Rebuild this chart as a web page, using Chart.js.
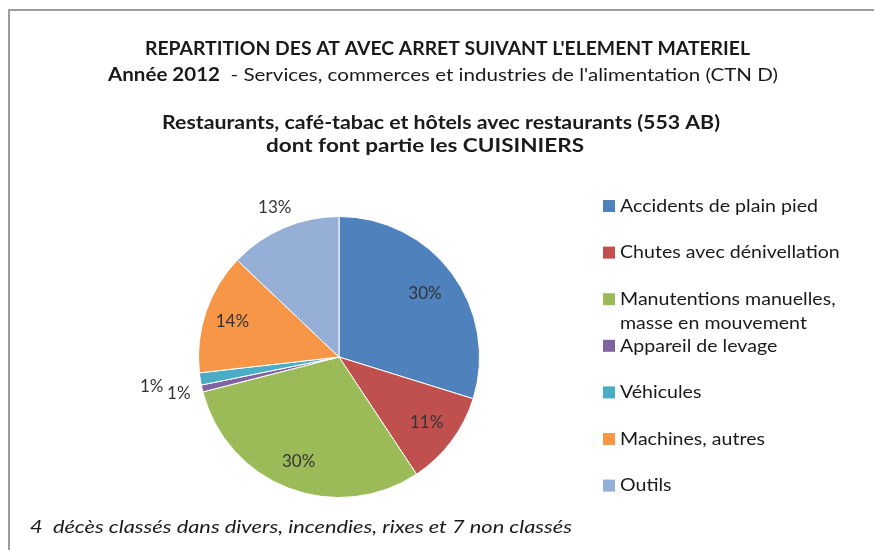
<!DOCTYPE html>
<html>
<head>
<meta charset="utf-8">
<script src="https://cdn.jsdelivr.net/npm/chart.js@4/dist/chart.umd.min.js"></script>
<style>
  html, body { margin: 0; padding: 0; background: #fff; }
  canvas { display: block; }
</style>
</head>
<body>
<canvas id="atChart" width="874" height="550"></canvas>
<script>
// Répartition des AT avec arrêt, 553 AB, année 2012 (en %)
const categories = [
    "Accidents de plain pied",
    "Chutes avec dénivellation",
    "Manutentions manuelles,\nmasse en mouvement",
    "Appareil de levage",
    "Véhicules",
    "Machines, autres",
    "Outils",
];
const shares = [29.8, 10.9, 30.3, 0.8, 1.4, 13.9, 12.9];
const sliceColors = ["#4F81BD", "#C0504D", "#9BBB59", "#8064A2", "#4BACC6", "#F79646", "#95AFD6"];

const titleLine = "REPARTITION DES AT AVEC ARRET SUIVANT L'ELEMENT MATERIEL";
const yearLabel = "Année 2012";
const sectorLabel = "  - Services, commerces et industries de l'alimentation (CTN D)";
const subtitleLines = [
    "Restaurants, café-tabac et hôtels avec restaurants (553 AB)",
    "dont font partie les CUISINIERS",
];
const footnote = "4  décès classés dans divers, incendies, rixes et 7 non classés";

const FONT = "Lato, 'Open Sans', sans-serif";
const TEXT = "#1a1a1a";

// draws text segments fitted horizontally to a given width
const drawSegments = (ctx, segments, left, y, width) => {
    let natural = 0;
    segments.forEach((s) => {
        ctx.font = s.font;
        natural += ctx.measureText(s.text).width;
    });
    const sx = width / natural;
    ctx.save();
    ctx.translate(left, y);
    ctx.scale(sx, 1);
    let x = 0;
    segments.forEach((s) => {
        ctx.font = s.font;
        ctx.fillText(s.text, x, 0);
        x += ctx.measureText(s.text).width;
    });
    ctx.restore();
};

const decorPlugin = {
    id: "decor",
    afterDraw(chart) {
        const ctx = chart.ctx;
        ctx.save();

        // frame
        ctx.strokeStyle = "#9c9c9c";
        ctx.lineWidth = 2;
        ctx.beginPath();
        ctx.moveTo(9, 550);
        ctx.lineTo(9, 10);
        ctx.lineTo(874, 10);
        ctx.stroke();

        ctx.fillStyle = TEXT;
        ctx.textBaseline = "middle";
        ctx.textAlign = "left";

        drawSegments(ctx, [{ text: titleLine, font: "bold 18px " + FONT }], 145, 49, 605);
        drawSegments(ctx, [
            { text: yearLabel, font: "bold 18px " + FONT },
            { text: sectorLabel, font: "18px " + FONT },
        ], 108, 75, 670);
        drawSegments(ctx, [{ text: subtitleLines[0], font: "bold 18px " + FONT }], 162, 123, 558);
        drawSegments(ctx, [{ text: subtitleLines[1], font: "bold 18px " + FONT }], 266, 146, 318);

        // footnote
        drawSegments(ctx, [{ text: footnote, font: "italic 18px " + FONT }], 30, 527, 542);

        // legend
        const meta = chart.getDatasetMeta(0);
        ctx.font = "18px " + FONT;
        const legendScale = 198 / ctx.measureText(categories[0]).width;
        categories.forEach((label, i) => {
            const y = 206 + i * 46.6;
            ctx.fillStyle = sliceColors[i];
            ctx.fillRect(603, y - 6, 12, 12);
            ctx.fillStyle = TEXT;
            label.split("\n").forEach((line, j) => {
                ctx.save();
                ctx.translate(620, y + j * 24);
                ctx.scale(legendScale, 1);
                ctx.fillText(line, 0, 0);
                ctx.restore();
            });
        });

        // percentage labels
        const radial = chart.options.plugins.decor.labelRadius;
        ctx.font = "17px " + FONT;
        ctx.textAlign = "center";
        ctx.fillStyle = "#333";
        meta.data.forEach((arc, i) => {
            const mid = (arc.startAngle + arc.endAngle) / 2;
            const r = arc.outerRadius * radial[i];
            const x = arc.x + Math.cos(mid) * r;
            const y = arc.y + Math.sin(mid) * r;
            ctx.fillText(Math.round(shares[i]) + "%", x, y);
        });

        ctx.restore();
    },
};

new Chart(document.getElementById("atChart"), {
    type: "pie",
    data: {
        labels: categories,
        datasets: [
            {
                data: shares,
                backgroundColor: sliceColors,
                borderColor: "#ffffff",
                borderWidth: 1,
                hoverOffset: 0,
            },
        ],
    },
    options: {
        responsive: false,
        animation: false,
        events: [],
        layout: {
            padding: { left: 198, right: 394, top: 216, bottom: 52 },
        },
        plugins: {
            legend: { display: false },
            title: { display: false },
            tooltip: { enabled: false },
            decor: { labelRadius: [0.76, 0.78, 0.8, 1.17, 1.35, 0.8, 1.16] },
        },
    },
    plugins: [decorPlugin],
});
</script>
</body>
</html>
